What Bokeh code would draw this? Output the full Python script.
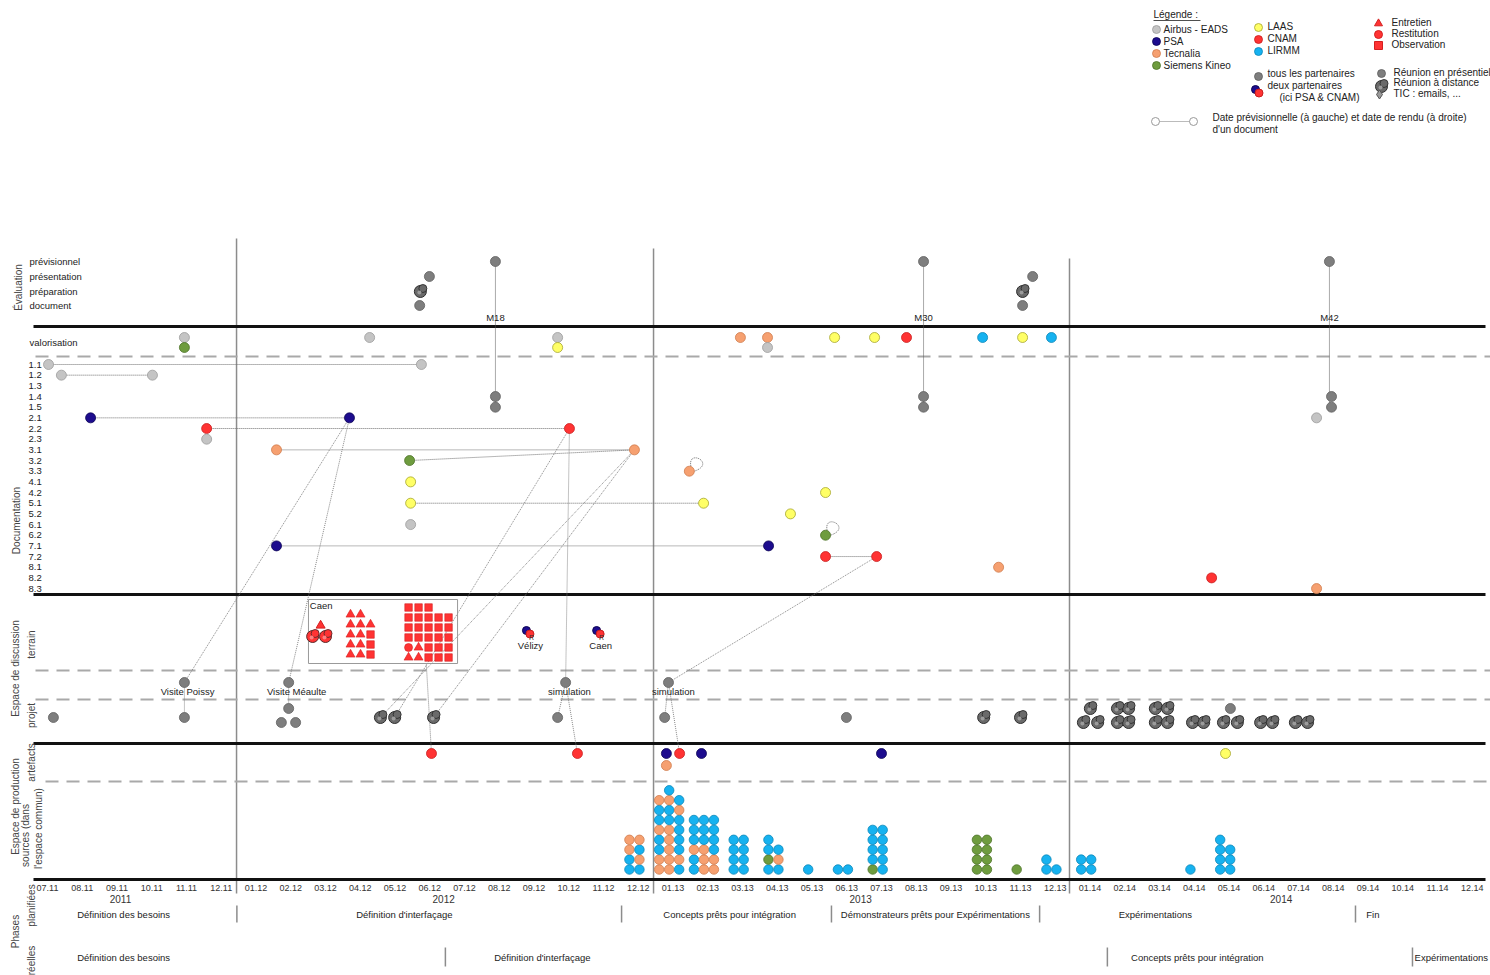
import math
from bokeh.plotting import figure
from bokeh.models import Range1d
from bokeh.embed import file_html
from bokeh.resources import INLINE
from bokeh.core.properties import value

FONT = value("Liberation Sans")

# ------------------------------------------------------------------ DATA
# month index: 0 = 07.11 ... 41 = 12.14 (fractions = position within month)
month_labels = ["07.11", "08.11", "09.11", "10.11", "11.11", "12.11",
                "01.12", "02.12", "03.12", "04.12", "05.12", "06.12",
                "07.12", "08.12", "09.12", "10.12", "11.12", "12.12",
                "01.13", "02.13", "03.13", "04.13", "05.13", "06.13",
                "07.13", "08.13", "09.13", "10.13", "11.13", "12.13",
                "01.14", "02.14", "03.14", "04.14", "05.14", "06.14",
                "07.14", "08.14", "09.14", "10.14", "11.14", "12.14"]
year_labels = ["2011", "2012", "2013", "2014"]
year_label_month = [2.1, 11.4, 23.4, 35.5]
year_breaks = [5.44, 17.44, 29.41]

partners = {  # key: (label, fill, outline)
    "A": ("Airbus - EADS", "#c4c4c4", "#9c9c9c"),
    "P": ("PSA", "#1d0c8e", "#0c0555"),
    "Te": ("Tecnalia", "#f6a070", "#cf7c4e"),
    "S": ("Siemens Kineo", "#6e9c3e", "#4c7228"),
    "L": ("LAAS", "#ffff66", "#a6a62e"),
    "C": ("CNAM", "#ff3333", "#c81e1e"),
    "Li": ("LIRMM", "#16b2f0", "#0b86b8"),
    "T": ("tous les partenaires", "#7e7e7e", "#606060"),
}

milestones = ["M18", "M30", "M42"]
milestone_month = [12.89, 25.21, 36.89]

eval_rows = ["prévisionnel", "présentation", "préparation", "document"]
eval_month = [12.89, 10.99, 10.73, 10.71, 25.21, 28.35, 28.06, 28.06, 36.89]
eval_row = ["prévisionnel", "présentation", "préparation", "document",
            "prévisionnel", "présentation", "préparation", "document", "prévisionnel"]
eval_kind = ["dot", "dot", "cloud", "dot", "dot", "dot", "cloud", "dot", "dot"]

valo_month = [3.94, 3.94, 9.27, 14.68, 14.68, 19.94, 20.72, 20.72, 22.65, 23.80,
              24.72, 26.91, 28.06, 28.89]
valo_level = [0, 1, 0, 0, 1, 0, 0, 1, 0, 0, 0, 0, 0, 0]
valo_partner = ["A", "S", "A", "A", "L", "Te", "Te", "A", "L", "L", "C", "Li", "L", "Li"]

doc_rows = ["1.1", "1.2", "1.3", "1.4", "1.5", "2.1", "2.2", "2.3", "3.1", "3.2", "3.3",
            "4.1", "4.2", "5.1", "5.2", "6.1", "6.2", "7.1", "7.2", "8.1", "8.2", "8.3"]
doc_month = [0.03, 10.76, 0.40, 3.02, 12.89, 12.89, 25.21, 25.21, 36.95, 36.95, 36.52,
             1.24, 8.69, 4.58, 15.02, 4.58, 6.59, 16.89, 10.42, 18.47, 10.45, 22.39,
             10.45, 18.88, 21.38, 10.45, 22.39, 6.59, 20.75, 22.39, 23.86, 27.37,
             33.50, 36.52]
doc_row = ["1.1", "1.1", "1.2", "1.2", "1.4", "1.5", "1.4", "1.5", "1.4", "1.5", "2.1",
           "2.1", "2.1", "2.2", "2.2", "2.3", "3.1", "3.1", "3.2", "3.3", "4.1", "4.2",
           "5.1", "5.1", "5.2", "6.1", "6.2", "7.1", "7.1", "7.2", "7.2", "8.1",
           "8.2", "8.3"]
doc_partner = ["A", "A", "A", "A", "T", "T", "T", "T", "T", "T", "A",
               "P", "P", "C", "C", "A", "Te", "Te", "S", "Te", "L", "L",
               "L", "L", "L", "A", "S", "P", "P", "C", "C", "Te",
               "C", "Te"]
# planned date -> delivered date
doc_links = [(0.03, "1.1", 10.76, "1.1"), (0.40, "1.2", 3.02, "1.2"),
             (1.24, "2.1", 8.69, "2.1"), (4.58, "2.2", 15.02, "2.2"),
             (6.59, "3.1", 16.89, "3.1"), (10.42, "3.2", 16.89, "3.1"),
             (10.45, "5.1", 18.88, "5.1"), (6.59, "7.1", 20.75, "7.1"),
             (22.39, "7.2", 23.86, "7.2")]
doc_loops = [(18.47, "3.3"), (22.39, "6.2")]

# discussion space
visit_month = [3.94, 6.94, 14.91, 17.87]
visit_label = ["Visite Poissy", "Visite Méaulte", "simulation", "simulation"]
visit_label_month = [4.03, 7.17, 15.02, 18.01]
proj_month = [0.17, 3.94, 6.94, 6.73, 7.14, 14.68, 17.76, 22.99, 34.04]
proj_level = ["projet", "projet", "haut", "bas", "bas", "projet", "projet", "projet", "haut"]
visit_to_proj = [(3.94, 3.94, "projet"), (6.94, 6.94, "haut"),
                 (14.91, 14.68, "projet"), (17.87, 17.76, "projet")]
remote_month = [9.58, 9.99, 11.11, 26.94, 28.00,
                30.01, 29.81, 30.22, 30.79, 31.11, 30.79, 31.11,
                31.88, 32.23, 31.88, 32.23, 32.95, 33.27, 33.84, 34.24,
                34.91, 35.25, 35.91, 36.26]
remote_level = ["projet"] * 5 + ["haut", "bas", "bas", "haut", "haut", "bas", "bas",
                                 "haut", "haut", "bas", "bas", "bas", "bas", "bas", "bas",
                                 "bas", "bas", "bas", "bas"]
duo_place = ["Vélizy", "Caen"]
duo_month = [13.84, 15.86]

# Caen field study (E = entretien, R = restitution, O = observation), columns top-down
caen_single_month = 7.86
caen_remote_month = [7.63, 8.00]
caen_interview_month = 8.72
caen_interview_cols = ["EEEEE", "EEEEE", ".EOOO"]
caen_obs_month = 10.39
caen_obs_cols = ["OOOORE", "OOOOEE", "OOOOOO", ".OOOOO", ".OOOOO"]

# production space: artefacts
art_month = [11.05, 15.25, 17.81, 18.19, 17.81, 18.82, 24.00, 33.90]
art_level = [0, 0, 0, 0, 1, 0, 0, 0]
art_partner = ["C", "C", "P", "C", "Te", "P", "P", "L"]

# production space: sources, per month, columns bottom-up (c=LIRMM, o=Tecnalia, g=Siemens)
src_month = [17, 18, 19, 20, 21, 22, 23, 24, 27, 28, 29, 30, 33, 34]
src_cols = [["ccoo", "coco"],
            ["ooccocco", "oooooccoc", "coccccoc"],
            ["ccoccc", "oooccc", "oocccc"],
            ["cccc", "cccc"],
            ["cgcc", "coc"],
            ["c"],
            ["c", "c"],
            ["gcccc", "ccccc"],
            ["gggg", "gggg"],
            ["g"],
            ["cc", "c"],
            ["cc", "cc"],
            ["c"],
            ["cccc", "ccc"]]
src_code = {"c": "Li", "o": "Te", "g": "S"}

# cross links between spaces: (month, place) -> (month, place)
cross_links = [((8.69, "doc:2.1"), (3.94, "visite")),
               ((8.69, "doc:2.1"), (6.94, "visite")),
               ((15.02, "doc:2.2"), (9.99, "projet")),
               ((15.02, "doc:2.2"), (14.91, "visite")),
               ((14.91, "visite"), (15.25, "art")),
               ((16.89, "doc:3.1"), (9.58, "projet")),
               ((16.89, "doc:3.1"), (11.11, "projet")),
               ((10.90, "caen"), (11.05, "art")),
               ((23.86, "doc:7.2"), (17.87, "visite")),
               ((17.87, "visite"), (18.19, "art"))]

planned_phases = ["Définition des besoins", "Définition d'interfaçage",
                  "Concepts prêts pour intégration",
                  "Démonstrateurs prêts pour Expérimentations", "Expérimentations", "Fin"]
planned_label_month = [2.19, 10.27, 19.63, 25.55, 31.88, 37.95]
planned_bounds = [5.45, 16.52, 22.56, 28.55, 37.64]
real_phases = ["Définition des besoins", "Définition d'interfaçage",
               "Concepts prêts pour intégration", "Expérimentations"]
real_label_month = [2.19, 14.24, 33.09, 39.34]
real_bounds = [11.45, 30.50, 39.28]

# ------------------------------------------------------------------ LAYOUT
W, H = 1490, 975
PPM = 34.75                   # pixels per month
X0 = -47 / PPM
X1 = X0 + W / PPM

Y_EVAL = {"prévisionnel": 261, "présentation": 276, "préparation": 291, "document": 305}
Y_VALO = [337, 347]
ROW0, ROWSTEP = 364, 10.67
Y_DOC = {r: ROW0 + i * ROWSTEP for i, r in enumerate(doc_rows)}
Y_DISC = {"visite": 682, "projet": 717, "haut": 708, "bas": 722}
Y_ART = [753, 765]
Y_SRC0, SRC_STEP = 869, 9.9
Y_MONTH, Y_YEAR, Y_PLAN, Y_REAL = 887, 898, 914, 957

TEXT = "#222222"


def ypos(key):
    if key.startswith("doc:"):
        return Y_DOC[key[4:]]
    if key == "art":
        return Y_ART[0]
    if key == "caen":
        return 663
    return Y_DISC[key]


p = figure(width=W, height=H, x_range=Range1d(X0, X1), y_range=Range1d(H, 0),
           output_backend="svg", toolbar_location=None, min_border=0,
           x_axis_location=None, y_axis_location=None)
p.extra_x_ranges = {"px": Range1d(0, W)}
p.grid.visible = False
p.outline_line_color = None
p.background_fill_color = "white"


def txt(x, y, s, size="9.5px", align="left", base="middle", angle=0.0, color=TEXT,
        xr="default"):
    p.text(x=[x], y=[y], text=[s], text_font=FONT, text_font_size=size,
           text_align=align, text_baseline=base, angle=angle, text_color=color,
           x_range_name=xr)


def dots(xs, ys, keys, size=10, xr="default"):
    p.scatter(x=list(xs), y=list(ys), size=size, marker="circle",
              fill_color=[partners[k][1] for k in keys],
              line_color=[partners[k][2] for k in keys], line_width=0.8,
              x_range_name=xr)


def clouds(xs, ys, unit, fill="#6a6a6a", edge="#2e2e2e", inner="#9c9c9c", xr="default"):
    xs, ys = list(xs), list(ys)
    p.scatter(x=xs, y=ys, size=12, marker="circle", fill_color=fill, line_color=edge,
              line_width=1, x_range_name=xr)
    p.scatter(x=[x + 2.5 * unit for x in xs], y=[y - 3 for y in ys], size=8,
              marker="circle", fill_color=fill, line_color=edge, line_width=0.9,
              x_range_name=xr)
    p.scatter(x=[x - 1 * unit for x in xs], y=[y + 1 for y in ys], size=4,
              marker="circle", fill_color=inner, line_color=None, x_range_name=xr)


def duo(xs, ys, unit, xr="default"):
    xs, ys = list(xs), list(ys)
    p.scatter(x=[x - 2 * unit for x in xs], y=[y - 2 for y in ys], size=8,
              fill_color=partners["P"][1], line_color=partners["P"][2], x_range_name=xr)
    p.scatter(x=[x + 1.5 * unit for x in xs], y=[y + 1.5 for y in ys], size=8,
              fill_color=partners["C"][1], line_color=partners["C"][2], x_range_name=xr)


MU = 1 / PPM  # one pixel in month units

# ------------------------------------------------------------------ STRUCTURE
# year separators
p.segment(x0=year_breaks, x1=year_breaks, y0=[238, 248, 258], y1=[893] * 3,
          line_color="#8c8c8c", line_width=1.5)
# dashed sub-separators
p.segment(x0=[35, 35, 35, 45], x1=[W] * 4, y0=[356, 670, 699, 781],
          y1=[356, 670, 699, 781], line_color="#a9a9a9", line_width=2,
          line_dash="13 8", x_range_name="px")
# thick separators
p.segment(x0=[33] * 4, x1=[1485] * 4, y0=[326, 594, 743, 879], y1=[326, 594, 743, 879],
          line_color="#111111", line_width=3, x_range_name="px")

# ------------------------------------------------------------------ LINKS
# milestones
p.segment(x0=milestone_month, x1=milestone_month, y0=[Y_EVAL["prévisionnel"]] * 3,
          y1=[Y_DOC["1.5"]] * 3, line_color="#555555", line_width=1, line_dash="1 1")
# documents planned -> delivered
p.segment(x0=[l[0] for l in doc_links], y0=[Y_DOC[l[1]] for l in doc_links],
          x1=[l[2] for l in doc_links], y1=[Y_DOC[l[3]] for l in doc_links],
          line_color="#707070", line_width=1, line_dash="1 1")
# self loops
for m, r in doc_loops:
    y = Y_DOC[r]
    p.bezier(x0=[m + 2 * MU], y0=[y - 3], x1=[m + 5 * MU], y1=[y],
             cx0=[m - 4 * MU], cy0=[y - 24], cx1=[m + 28 * MU], cy1=[y - 8],
             line_color="#707070", line_width=1, line_dash="1 1")
# cross links
p.segment(x0=[a[0] for a, b in cross_links], y0=[ypos(a[1]) for a, b in cross_links],
          x1=[b[0] for a, b in cross_links], y1=[ypos(b[1]) for a, b in cross_links],
          line_color="#7a7a7a", line_width=0.9, line_dash="1 1")
# visit -> project
p.segment(x0=[v[0] for v in visit_to_proj], y0=[Y_DISC["visite"]] * len(visit_to_proj),
          x1=[v[1] for v in visit_to_proj], y1=[Y_DISC[v[2]] for v in visit_to_proj],
          line_color="#7a7a7a", line_width=0.9, line_dash="1 1")

# ------------------------------------------------------------------ MARKS
# evaluation
ed = [i for i, k in enumerate(eval_kind) if k == "dot"]
ec = [i for i, k in enumerate(eval_kind) if k == "cloud"]
dots([eval_month[i] for i in ed], [Y_EVAL[eval_row[i]] for i in ed], ["T"] * len(ed))
clouds([eval_month[i] for i in ec], [Y_EVAL[eval_row[i]] for i in ec], MU)
for name, m in zip(milestones, milestone_month):
    txt(m, 317, name, align="center")

# valorisation
dots(valo_month, [Y_VALO[l] for l in valo_level], valo_partner)

# documentation
dots(doc_month, [Y_DOC[r] for r in doc_row], doc_partner)

# discussion space
dots(visit_month, [Y_DISC["visite"]] * len(visit_month), ["T"] * len(visit_month))
dots(proj_month, [Y_DISC[l] for l in proj_level], ["T"] * len(proj_month))
clouds(remote_month, [Y_DISC[l] for l in remote_level], MU)
for lab, m in zip(visit_label, visit_label_month):
    txt(m, 691, lab, align="center")
duo(duo_month, [632] * len(duo_month), MU)
for place, m in zip(duo_place, duo_month):
    txt(m + 3 * MU, 637, "R", size="7px", align="center", color="#333333")
    txt(m + 2 * MU, 645, place, align="center")

# Caen box
red, redl = "#ff3333", "#d42020"
shape = {"E": "triangle", "R": "circle", "O": "square"}
p.quad(left=[7.51], right=[11.80], top=[599], bottom=[663], fill_color=None,
       line_color="#9a9a9a", line_width=1)
txt(7.55, 605, "Caen", align="left")
p.scatter(x=[caen_single_month], y=[625], marker="triangle", size=9, fill_color=red,
          line_color=redl)
clouds(caen_remote_month, [636, 636], MU, fill=red, edge="#5a2a2a", inner="#ff8080")
cx, cy, cm, cs = [], [], [], []
size_of = {"triangle": 9, "circle": 8, "square": 7.5}
for k, col in enumerate(caen_interview_cols):
    for j, ch in enumerate(col):
        if ch != ".":
            cx.append(caen_interview_month + k * 10 * MU)
            cy.append(614 + 10 * j)
            cm.append(shape[ch])
            cs.append(size_of[shape[ch]])
for k, col in enumerate(caen_obs_cols):
    for j, ch in enumerate(col):
        if ch != ".":
            cx.append(caen_obs_month + k * 10 * MU)
            cy.append(607 + 10 * j)
            cm.append(shape[ch])
            cs.append(size_of[shape[ch]])
p.scatter(x=cx, y=cy, marker=cm, size=cs, fill_color=red, line_color=redl,
          line_width=0.6)

# artefacts
dots(art_month, [Y_ART[l] for l in art_level], art_partner)

# sources
sx, sy, sk = [], [], []
for m, cols in zip(src_month, src_cols):
    n = len(cols)
    for k, col in enumerate(cols):
        for j, ch in enumerate(col):
            sx.append(m - 0.11 + (k - (n - 1) / 2) * 10 * MU)
            sy.append(Y_SRC0 - SRC_STEP * j)
            sk.append(src_code[ch])
dots(sx, sy, sk, size=9.5)

# ------------------------------------------------------------------ AXIS / PHASES
for i, lab in enumerate(month_labels):
    txt(i, Y_MONTH, lab, size="9px", align="center", color="#333333")
for lab, m in zip(year_labels, year_label_month):
    txt(m, Y_YEAR, lab, size="10px", align="center", color="#333333")
p.segment(x0=planned_bounds, x1=planned_bounds, y0=[905] * len(planned_bounds),
          y1=[922] * len(planned_bounds), line_color="#8c8c8c", line_width=1.5)
p.segment(x0=real_bounds, x1=real_bounds, y0=[947] * len(real_bounds),
          y1=[966] * len(real_bounds), line_color="#8c8c8c", line_width=1.5)
for i, (lab, m) in enumerate(zip(planned_phases, planned_label_month)):
    txt(m, Y_PLAN, lab, align="left" if i == len(planned_phases) - 1 else "center")
for i, (lab, m) in enumerate(zip(real_phases, real_label_month)):
    txt(m, Y_REAL, lab, align="left" if i == len(real_phases) - 1 else "center")

# ------------------------------------------------------------------ LEFT LABELS
R90 = math.pi / 2
for r in eval_rows:
    txt(29, Y_EVAL[r], r, xr="px")
txt(29, 342, "valorisation", xr="px")
for r in doc_rows:
    txt(28, Y_DOC[r], r, xr="px")
side = [(18, 287, "Évaluation"), (16, 520, "Documentation"),
        (15, 668, "Espace de discussion"), (31, 644, "terrain"), (31, 715, "projet"),
        (15, 806, "Espace de production"), (31, 762, "artefacts"),
        (25, 835, "sources (dans"), (38, 828, "l'espace commun)"),
        (15, 931, "Phases"), (31, 905, "planifiées"), (31, 960, "réelles")]
for x, y, s in side:
    txt(x, y, s, size="10px", align="center", angle=R90, color="#444444", xr="px")

# ------------------------------------------------------------------ LEGEND
LS = "10px"
txt(1153, 14, "Légende :", size=LS, xr="px")
p.segment(x0=[1153], x1=[1200], y0=[20], y1=[20], line_color=TEXT, line_width=0.8,
          x_range_name="px")
col1 = ["A", "P", "Te", "S"]
dots([1156] * 4, [29, 41, 53, 65], col1, size=8, xr="px")
for k, y in zip(col1, [29, 41, 53, 65]):
    txt(1163, y, partners[k][0], size=LS, xr="px")
col2 = ["L", "C", "Li"]
dots([1258] * 3, [27, 39, 51], col2, size=8, xr="px")
for k, y in zip(col2, [26, 38, 50]):
    txt(1267, y, partners[k][0], size=LS, xr="px")
p.scatter(x=[1378, 1378, 1378], y=[23, 34, 45], marker=["triangle", "circle", "square"],
          size=8, fill_color=red, line_color=redl, x_range_name="px")
for s, y in zip(["Entretien", "Restitution", "Observation"], [22, 33, 44]):
    txt(1391, y, s, size=LS, xr="px")
dots([1258], [76], ["T"], size=8, xr="px")
txt(1267, 73, "tous les partenaires", size=LS, xr="px")
duo([1257], [91], 1, xr="px")
txt(1267, 85, "deux partenaires", size=LS, xr="px")
txt(1279, 97, "(ici PSA & CNAM)", size=LS, xr="px")
dots([1381], [73], ["T"], size=8, xr="px")
txt(1393, 72, "Réunion en présentiel", size=LS, xr="px")
clouds([1381], [86], 1, xr="px")
p.scatter(x=[1379], y=[94], marker="diamond", size=9, fill_color="#9a9a9a",
          line_color="#555555", x_range_name="px")
txt(1393, 82, "Réunion à distance", size=LS, xr="px")
txt(1393, 93, "TIC : emails, ...", size=LS, xr="px")
p.segment(x0=[1155], x1=[1193], y0=[121], y1=[121], line_color="#777777",
          line_dash="1 1", x_range_name="px")
p.scatter(x=[1155, 1193], y=[121, 121], size=8, fill_color="white",
          line_color="#999999", x_range_name="px")
txt(1212, 117, "Date prévisionnelle (à gauche) et date de rendu (à droite)", size=LS,
    xr="px")
txt(1212, 129, "d'un document", size=LS, xr="px")

open("out.html", "w").write(file_html(p, INLINE))
